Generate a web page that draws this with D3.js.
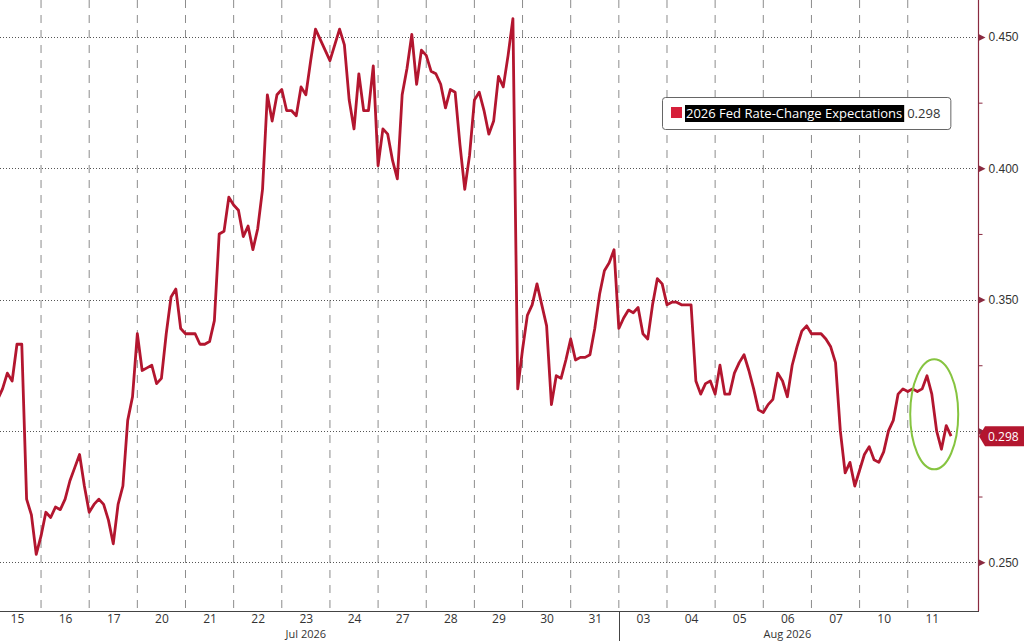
<!DOCTYPE html>
<html>
<head>
<meta charset="utf-8">
<script src="https://cdn.jsdelivr.net/npm/d3@7"></script>
<style>
  html, body { margin: 0; padding: 0; background: #fff; }
  svg { display: block; font-family: "Open Sans", "DejaVu Sans", sans-serif; }
</style>
</head>
<body>
<svg id="chart" width="1024" height="641"></svg>
<script>
// trading days shown on the x axis
var days = ["15","16","17","20","21","22","23","24","27","28","29","30","31","03","04","05","06","07","10","11"];
var monthLabels = ["Jul 2026", "Aug 2026"];
var monthFirstDay = [0, 13];   // index into days
var monthLastDay = [12, 19];

// intraday readings, 10 per trading day
var intraday = [
    [0.310, 0.312, 0.316, 0.322, 0.319, 0.333, 0.333, 0.274, 0.268, 0.253],
    [0.260, 0.269, 0.267, 0.271, 0.270, 0.274, 0.281, 0.286, 0.291, 0.279],
    [0.269, 0.272, 0.274, 0.272, 0.266, 0.257, 0.272, 0.279, 0.304, 0.313],
    [0.337, 0.323, 0.324, 0.325, 0.318, 0.320, 0.337, 0.351, 0.354, 0.339],
    [0.337, 0.337, 0.337, 0.333, 0.333, 0.334, 0.342, 0.375, 0.376, 0.389],
    [0.386, 0.384, 0.374, 0.378, 0.369, 0.377, 0.392, 0.428, 0.418, 0.428],
    [0.430, 0.422, 0.422, 0.420, 0.431, 0.428, 0.441, 0.453, 0.449, 0.445],
    [0.441, 0.447, 0.453, 0.447, 0.426, 0.415, 0.436, 0.422, 0.422, 0.439],
    [0.401, 0.415, 0.413, 0.403, 0.396, 0.428, 0.438, 0.451, 0.432, 0.445],
    [0.443, 0.437, 0.436, 0.432, 0.423, 0.430, 0.429, 0.409, 0.392, 0.405],
    [0.426, 0.429, 0.422, 0.413, 0.418, 0.435, 0.431, 0.443, 0.457, 0.316],
    [0.331, 0.344, 0.348, 0.356, 0.348, 0.340, 0.310, 0.321, 0.320, 0.327],
    [0.335, 0.327, 0.328, 0.328, 0.329, 0.339, 0.352, 0.361, 0.364, 0.369],
    [0.339, 0.343, 0.346, 0.345, 0.347, 0.337, 0.335, 0.348, 0.358, 0.356],
    [0.348, 0.349, 0.349, 0.348, 0.348, 0.348, 0.319, 0.314, 0.318, 0.319],
    [0.314, 0.325, 0.314, 0.314, 0.322, 0.326, 0.329, 0.323, 0.316, 0.308],
    [0.307, 0.310, 0.312, 0.322, 0.319, 0.313, 0.325, 0.332, 0.338, 0.340],
    [0.337, 0.337, 0.337, 0.335, 0.332, 0.326, 0.300, 0.284, 0.288, 0.279],
    [0.285, 0.291, 0.294, 0.289, 0.288, 0.292, 0.300, 0.304, 0.314, 0.316],
    [0.315, 0.316, 0.315, 0.316, 0.321, 0.314, 0.300, 0.293, 0.302, 0.298]
];

var seriesName = "2026 Fed Rate-Change Expectations";
var lastValue = 0.298;
var yMajor = [0.25, 0.30, 0.35, 0.40, 0.45];
var yMinor = [0.275, 0.325, 0.375, 0.425];

var lineColor = "#b3162f";

var svg = d3.select("#chart"),
    plotW = 979,
    plotH = 611;

var x = d3.scaleLinear().domain([0.1476, 20.48]).range([0, plotW]);
var y = d3.scaleLinear().domain([0.2314, 0.4641]).range([plotH, 0]);

// flatten the days into points
var points = [];
intraday.forEach(function (vals, d) {
    vals.forEach(function (v, k) {
        points.push({t: d + k / vals.length, v: v});
    });
});

svg.append("defs").append("clipPath").attr("id", "plotclip")
    .append("rect").attr("x", 0).attr("y", 0).attr("width", plotW).attr("height", plotH);

// vertical dashed day separators
var bounds = d3.range(1, days.length);
svg.append("g")
    .selectAll("line")
    .data(bounds)
    .enter().append("line")
    .attr("x1", function (d) { return x(d); })
    .attr("x2", function (d) { return x(d); })
    .attr("y1", 0)
    .attr("y2", plotH)
    .attr("stroke", "#8c8c8c")
    .attr("stroke-width", 1)
    .attr("stroke-dasharray", "8,7");

// horizontal dotted grid
svg.append("g")
    .selectAll("line")
    .data(yMajor)
    .enter().append("line")
    .attr("x1", 0)
    .attr("x2", plotW)
    .attr("y1", function (d) { return Math.round(y(d)) + 0.5; })
    .attr("y2", function (d) { return Math.round(y(d)) + 0.5; })
    .attr("stroke", "#555")
    .attr("stroke-width", 1)
    .attr("stroke-dasharray", "1,2");

// the series
var line = d3.line()
    .x(function (d) { return x(d.t); })
    .y(function (d) { return y(d.v); });

svg.append("path")
    .datum(points)
    .attr("clip-path", "url(#plotclip)")
    .attr("fill", "none")
    .attr("stroke", lineColor)
    .attr("stroke-width", 2.8)
    .attr("stroke-linejoin", "round")
    .attr("d", line);

// bottom axis: day labels in the middle of each day
var xAxis = d3.axisBottom(x)
    .tickValues(d3.range(days.length).map(function (i) { return i + 0.5; }))
    .tickSize(0)
    .tickPadding(3)
    .tickFormat(function (d) { return days[Math.floor(d)]; });

var gx = svg.append("g")
    .attr("transform", "translate(0," + (plotH + 0.5) + ")")
    .call(xAxis);
gx.select(".domain").attr("stroke", "#444").attr("d", "M0,0H" + plotW);
gx.selectAll("text").attr("fill", "#333").style("font-size", "12px").style("font-family", "'Open Sans', sans-serif");

// month separator below the axis
monthFirstDay.slice(1).forEach(function (d) {
    svg.append("line")
        .attr("x1", Math.round(x(d)) + 0.5).attr("x2", Math.round(x(d)) + 0.5)
        .attr("y1", plotH).attr("y2", 641)
        .attr("stroke", "#444").attr("stroke-width", 1);
});

// month labels centred under their days
monthLabels.forEach(function (m, i) {
    var cx = (x(monthFirstDay[i] + 0.5) + x(monthLastDay[i] + 0.5)) / 2;
    svg.append("text")
        .attr("x", cx)
        .attr("y", 637.5)
        .attr("text-anchor", "middle")
        .attr("fill", "#333")
        .style("font-size", "11px")
        .text(m);
});

// right axis
var yl = y(lastValue);
var yAxis = d3.axisRight(y)
    .tickValues(yMajor)
    .tickSize(0)
    .tickPadding(10)
    .tickFormat(d3.format(".3f"));

var gy = svg.append("g")
    .attr("transform", "translate(" + (plotW - 0.5) + ",0)")
    .call(yAxis);
gy.select(".domain").attr("stroke", "#8a2a40").attr("stroke-width", 1.2).attr("d", "M0,0V" + plotH);
gy.selectAll("text").attr("fill", "#333").style("font-size", "12px");
// the last value tag hides the label underneath it
gy.selectAll(".tick").filter(function (d) { return Math.abs(y(d) - yl) < 14; })
    .select("text").remove();

// triangle markers on major ticks
gy.selectAll(".tick")
    .append("path")
    .attr("d", "M0,-3.5L7,0L0,3.5Z")
    .attr("fill", "#8a2a40");

var gyMinor = svg.append("g")
    .attr("transform", "translate(" + (plotW - 0.5) + ",0)")
    .call(d3.axisRight(y).tickValues(yMinor).tickSize(4).tickFormat(""));
gyMinor.select(".domain").remove();
gyMinor.selectAll("line").attr("stroke", "#8a2a40");

// last value tag
svg.append("path")
    .attr("d", "M" + plotW + "," + yl +
        "L" + (plotW + 6) + "," + (yl - 10) +
        "L1024," + (yl - 10) +
        "L1024," + (yl + 10) +
        "L" + (plotW + 6) + "," + (yl + 10) + "Z")
    .attr("fill", lineColor);
svg.append("text")
    .attr("x", plotW + 9)
    .attr("y", yl + 4.5)
    .attr("fill", "#fff")
    .style("font-size", "12px")
    .text(d3.format(".3f")(lastValue));

// annotation ellipse around the latest move
svg.append("ellipse")
    .attr("cx", x(19.55))
    .attr("cy", y(0.3063))
    .attr("rx", 24)
    .attr("ry", 55)
    .attr("fill", "none")
    .attr("stroke", "#86c440")
    .attr("stroke-width", 2);

// legend
var lg = svg.append("g").attr("transform", "translate(662,97)");
var lgBox = lg.append("rect")
    .attr("x", 0.5).attr("y", 0.5)
    .attr("height", 32)
    .attr("rx", 3)
    .attr("fill", "#fff")
    .attr("stroke", "#666");
lg.append("rect")
    .attr("x", 9).attr("y", 10)
    .attr("width", 11).attr("height", 11)
    .attr("fill", "#d61f3a");
var hl = lg.append("rect")
    .attr("x", 23).attr("y", 8)
    .attr("height", 17)
    .attr("fill", "#000");
var lt = lg.append("text")
    .attr("x", 24).attr("y", 21)
    .attr("fill", "#fff")
    .style("font-size", "13px")
    .text(seriesName);
var tw = lt.node().getComputedTextLength();
hl.attr("width", tw + 3);
var lv = lg.append("text")
    .attr("x", 24 + tw + 5).attr("y", 21)
    .attr("fill", "#333")
    .style("font-size", "13px")
    .text(d3.format(".3f")(lastValue));
lgBox.attr("width", 24 + tw + 5 + lv.node().getComputedTextLength() + 10);
</script>
</body>
</html>
